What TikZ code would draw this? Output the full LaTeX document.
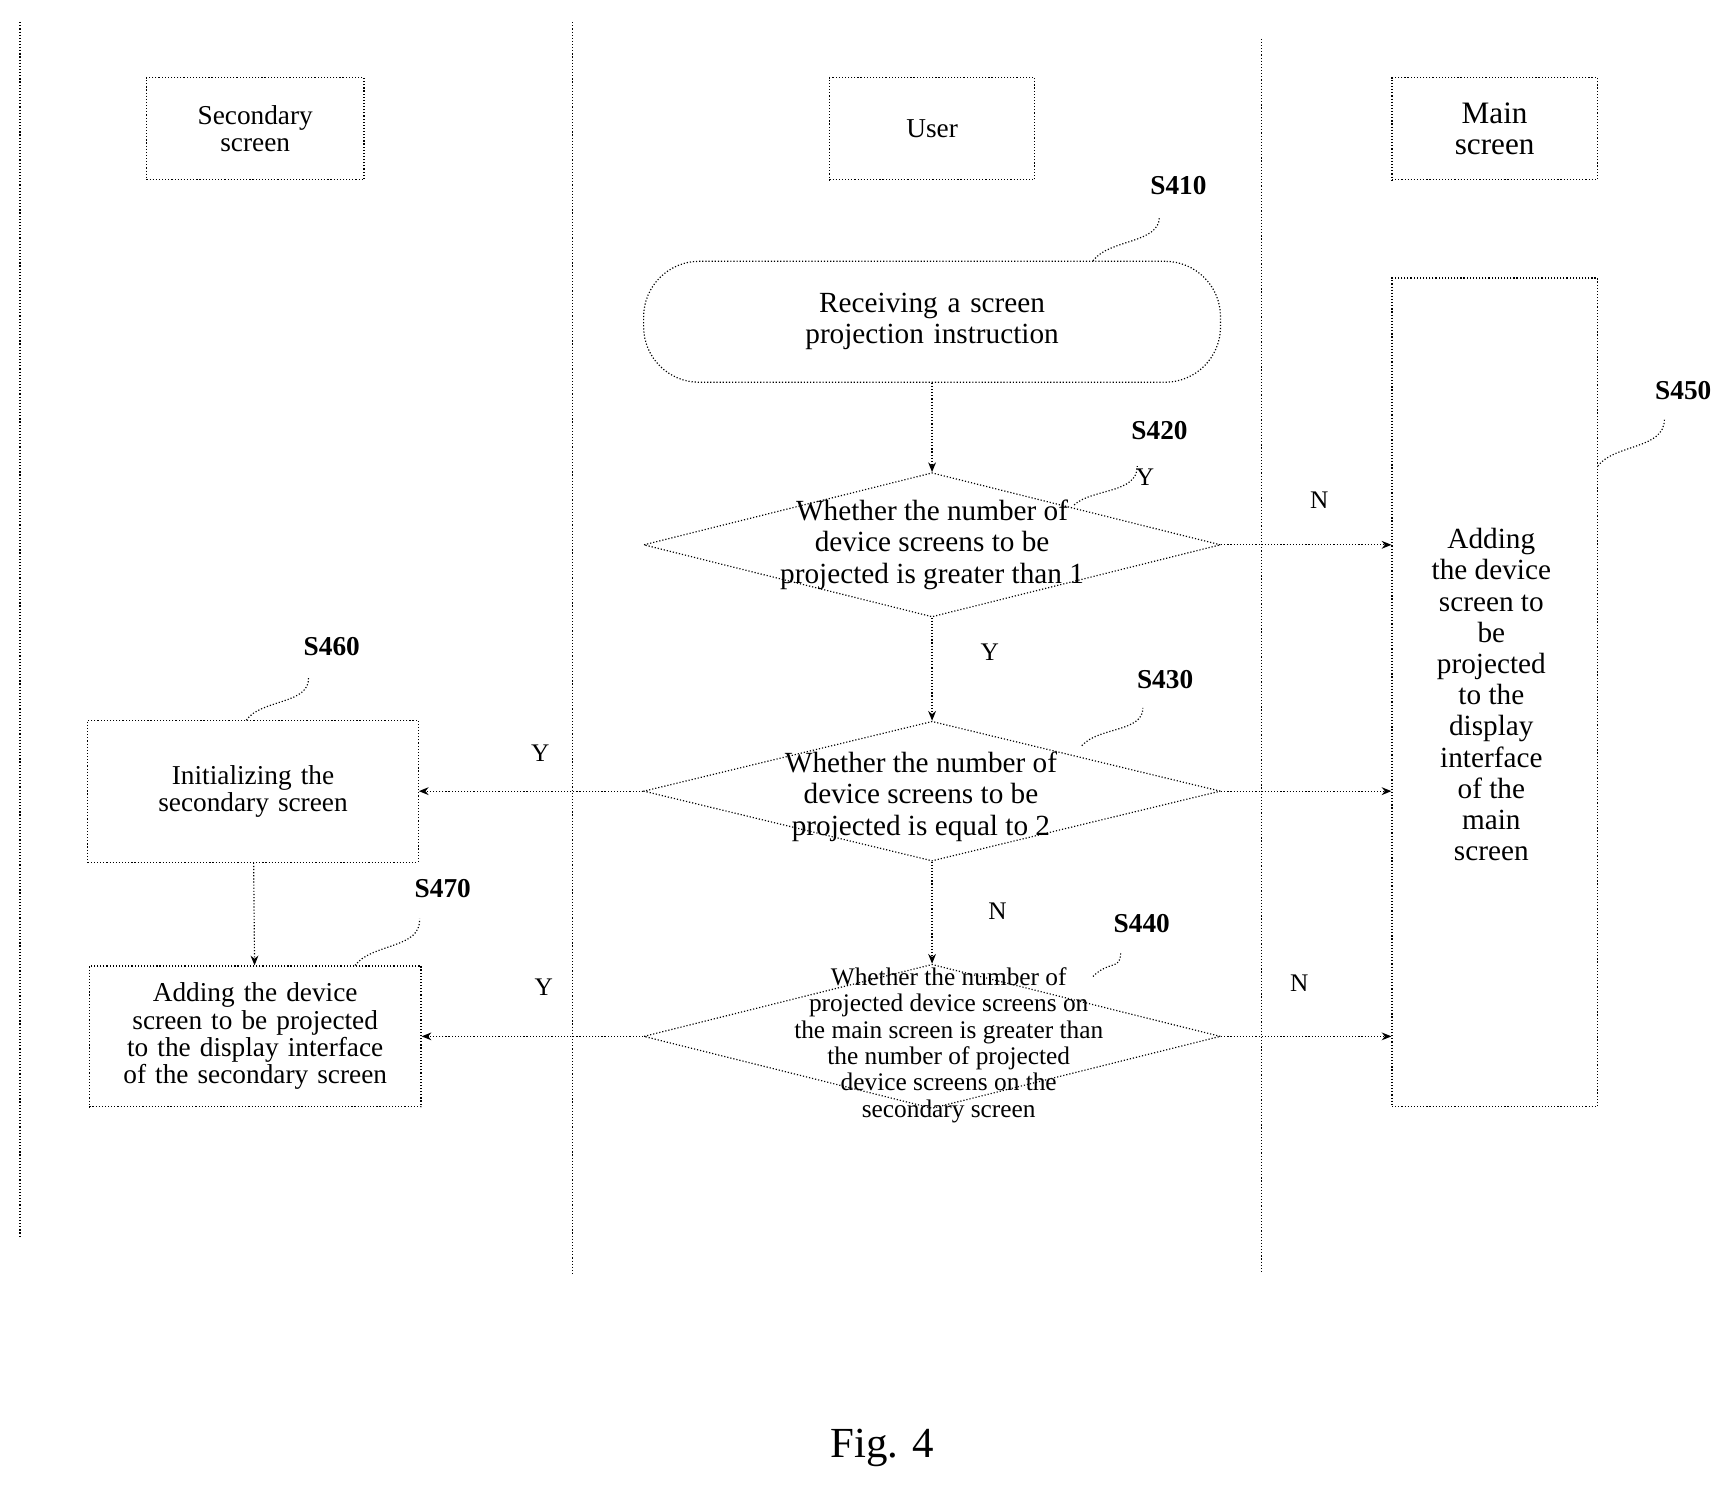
\documentclass[tikz,border=0pt]{standalone}
\usepackage{fontspec}
\setmainfont{Liberation Serif}
\usetikzlibrary{shapes.geometric,arrows.meta}
\begin{document}
\begin{tikzpicture}[x=0.02cm,y=-0.02cm,
  dl/.style={densely dotted,line width=0.6pt},
  box/.style={dl,draw,align=center,inner sep=0pt,font=\fontsize{14}{14}\selectfont},
  dia/.style={dl,draw,diamond,aspect=4,align=center,inner sep=0pt,font=\fontsize{14}{15}\selectfont},
  arr/.style={dl,-{Stealth[length=5pt,width=4pt]}},
  lab/.style={font=\bfseries\fontsize{14}{14}\selectfont},
  yn/.style={font=\fontsize{13}{13}\selectfont}]
\useasboundingbox (0,0) rectangle (1560,1341);
\draw[dl] (18,20) -- (18,1115);
\draw[dl] (516,20) -- (516,1148);
\draw[dl] (1137,35) -- (1137,1148);
\node[box,minimum width=186\pgflinewidth,text width=3.7cm,minimum height=1.84cm] (h1) at (230,116) {Secondary\\ screen};
\node[box,text width=3.7cm,minimum height=1.84cm] (h2) at (840,116) {User};
\node[box,text width=3.7cm,minimum height=1.84cm,font=\fontsize{16}{16}\selectfont] (h3) at (1347,116) {Main\\ screen};
\node[box,rounded corners=1cm,text width=10.4cm,minimum height=2.18cm,font=\fontsize{15}{16}\selectfont] (s410) at (840,290) {Receiving a screen\\ projection instruction};
\node[dia,minimum width=10.4cm,minimum height=2.6cm] (s420) at (840,491) {};
\node[font=\fontsize{15}{16}\selectfont,align=center] at (840,491) {Whether the number of\\ device screens to be\\ projected is greater than 1};
\node[dia,minimum width=10.4cm,minimum height=2.52cm] (s430) at (840,713) {};
\node[font=\fontsize{15}{16}\selectfont,align=center] at (830,718) {Whether the number of\\ device screens to be\\ projected is equal to 2};
\node[dia,minimum width=10.4cm,minimum height=2.6cm] (s440) at (840,934) {};
\node[font=\fontsize{13}{13.5}\selectfont,align=center] at (855,942) {Whether the number of\\ projected device screens on\\ the main screen is greater than\\ the number of projected\\ device screens on the\\ secondary screen};
\node[box,text width=3.7cm,minimum height=14.94cm,font=\fontsize{15}{16}\selectfont] (s450) at (1347,624) {};
\node[font=\fontsize{15}{16}\selectfont,align=center] at (1344,626) {Adding\\ the device\\ screen to\\ be\\ projected\\ to the\\ display\\ interface\\ of the\\ main\\ screen};
\node[box,text width=5.96cm,minimum height=2.56cm] (s460) at (228,713) {Initializing the\\ secondary screen};
\node[box,text width=5.98cm,minimum height=2.54cm] (s470) at (230,934) {Adding the device\\ screen to be projected\\ to the display interface\\ of the secondary screen};
\draw[arr] (s410) -- (s420);
\draw[arr] (s420.east) -- (s450.west|-s420.east);
\draw[arr] (s420) -- (s430);
\draw[arr] (s430.west) -- (s460.east);
\draw[arr] (s430.east) -- (s450.west|-s430.east);
\draw[arr] (s430) -- (s440);
\draw[arr] (s440.west) -- (s470.east);
\draw[arr] (s440.east) -- (s450.west|-s440.east);
\draw[arr] (s460) -- (s470);
\node[lab] at (1062,167) {S410};
\draw[dl] (985,235) .. controls (1000,215) and (1045,220) .. (1045,195);
\node[lab] at (1045,388) {S420};
\draw[dl] (968,455) .. controls (985,440) and (1025,445) .. (1025,420);
\node[lab] at (1517,352) {S450};
\draw[dl] (1440,420) .. controls (1455,400) and (1500,405) .. (1500,378);
\node[lab] at (1050,612) {S430};
\draw[dl] (975,672) .. controls (990,655) and (1030,660) .. (1030,638);
\node[lab] at (1029,832) {S440};
\draw[dl] (985,880) .. controls (1000,865) and (1010,875) .. (1010,858);
\node[lab] at (299,583) {S460};
\draw[dl] (222,649) .. controls (235,630) and (280,635) .. (278,610);
\node[lab] at (399,801) {S470};
\draw[dl] (320,870) .. controls (335,850) and (380,855) .. (378,828);
\node[yn] at (1032,430) {Y};
\node[yn] at (1189,451) {N};
\node[yn] at (892,588) {Y};
\node[yn] at (487,679) {Y};
\node[yn] at (899,821) {N};
\node[yn] at (490,890) {Y};
\node[yn] at (1171,886) {N};
\node[font=\fontsize{22}{22}\selectfont] at (795,1305) {Fig. 4};
\end{tikzpicture}
\end{document}
